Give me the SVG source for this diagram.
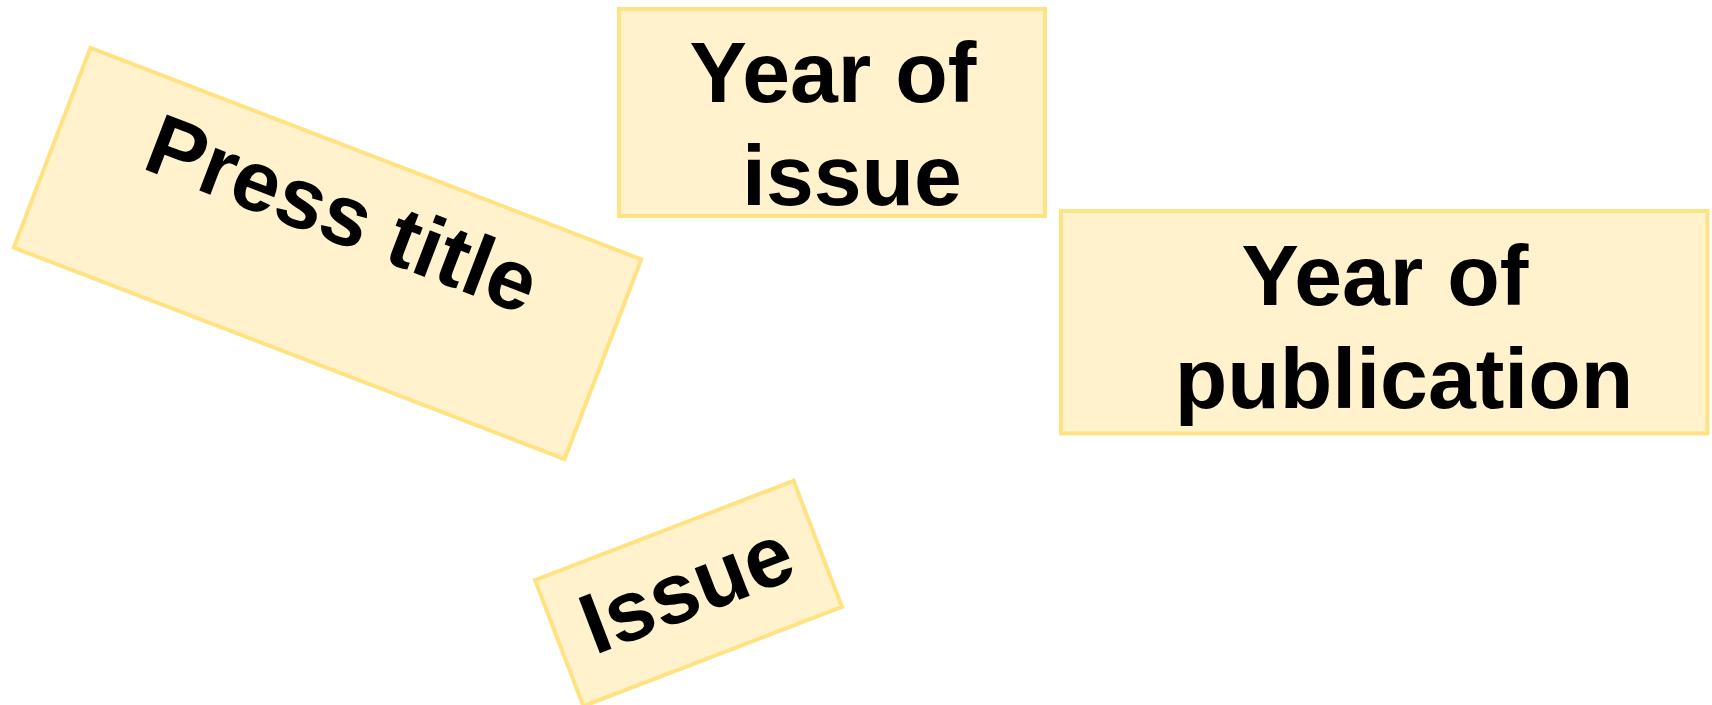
<svg xmlns="http://www.w3.org/2000/svg" width="1712" height="705" viewBox="0 0 1712 705">
<style>
.box{fill:#FFF2CC;stroke:#FFE382;stroke-width:4}
.lbl{font-family:"Liberation Sans",Arial,sans-serif;font-weight:bold;font-size:86px;fill:#000;text-anchor:middle}
</style>
<rect width="1712" height="705" fill="#fff"/>
<g id="press-title" transform="translate(327.5,253.5) rotate(21)">
<rect class="box" x="-295" y="-107" width="590" height="214"/>
<text class="lbl" x="0" y="-13">Press title</text>
</g>
<g id="year-of-issue">
<rect class="box" x="619" y="9" width="426" height="207"/>
<text class="lbl" x="833" y="102">Year of</text>
<text class="lbl" x="852" y="205">issue</text>
</g>
<g id="year-of-publication">
<rect class="box" x="1061" y="211" width="646.5" height="222.5"/>
<text class="lbl" x="1385" y="305">Year of</text>
<text class="lbl" x="1404" y="408">publication</text>
</g>
<g id="issue" transform="translate(688.5,593.5) rotate(-21)">
<rect class="box" x="-138.5" y="-67.5" width="277" height="135"/>
<text class="lbl" x="0" y="24">Issue</text>
</g>
<g id="connectors"/>
</svg>
